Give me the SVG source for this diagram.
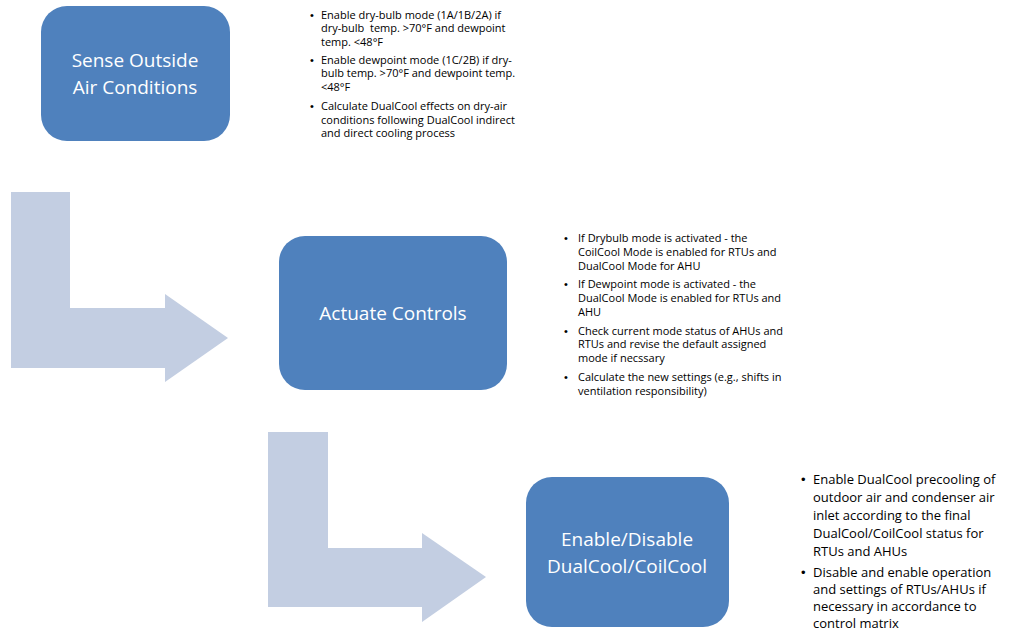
<svg xmlns="http://www.w3.org/2000/svg" width="1010" height="632" viewBox="0 0 1010 632">
<style>
.box{fill:#4F81BD}
.arrow{fill:#C3CEE2}
.lbl{font-family:"Open Sans","Liberation Sans",sans-serif;font-size:19px;fill:#FFFFFF;text-anchor:middle}
.s{font-family:"Open Sans","Liberation Sans",sans-serif;font-size:11px;fill:#000000}
.m{font-family:"Open Sans","Liberation Sans",sans-serif;font-size:13px;fill:#000000}
.b{font-family:"Liberation Sans",Arial,sans-serif}
</style>
<rect width="1010" height="632" fill="#FFFFFF"/>
<g id="connectors">
<path class="arrow" d="M11,192 L70,192 L70,308 L165,308 L165,294 L228,338 L165,382 L165,368 L11,368 Z"/>
<path class="arrow" d="M268,432 L328,432 L328,548 L422,548 L422,533 L486,577 L422,622 L422,607 L268,607 Z"/>
</g>
<g id="node-sense">
<rect class="box" x="41" y="6" width="189" height="135" rx="26"/>
<text class="lbl" x="135" y="67">Sense Outside</text>
<text class="lbl" x="135" y="94">Air Conditions</text>
</g>
<g id="node-actuate">
<rect class="box" x="279" y="236" width="228" height="154" rx="26"/>
<text class="lbl" x="393" y="320">Actuate Controls</text>
</g>
<g id="node-enable">
<rect class="box" x="526" y="477" width="203" height="150" rx="26"/>
<text class="lbl" x="627" y="546">Enable/Disable</text>
<text class="lbl" x="627" y="573">DualCool/CoilCool</text>
</g>
<g id="notes-sense" class="s">
<text class="b" x="310" y="19">•</text>
<text x="321" y="19">Enable dry-bulb mode (1A/1B/2A) if</text>
<text x="321" y="32" xml:space="preserve">dry-bulb  temp. &gt;70°F and dewpoint</text>
<text x="321" y="46">temp. &lt;48°F</text>
<text class="b" x="310" y="64">•</text>
<text x="321" y="64">Enable dewpoint mode (1C/2B) if dry-</text>
<text x="321" y="77">bulb temp. &gt;70°F and dewpoint temp.</text>
<text x="321" y="91">&lt;48°F</text>
<text class="b" x="310" y="110">•</text>
<text x="321" y="110">Calculate DualCool effects on dry-air</text>
<text x="321" y="124">conditions following DualCool indirect</text>
<text x="321" y="137">and direct cooling process</text>
</g>
<g id="notes-actuate" class="s">
<text class="b" x="564" y="242">•</text>
<text x="578" y="242">If Drybulb mode is activated - the</text>
<text x="578" y="256">CoilCool Mode is enabled for RTUs and</text>
<text x="578" y="270">DualCool Mode for AHU</text>
<text class="b" x="564" y="288">•</text>
<text x="578" y="288">If Dewpoint mode is activated - the</text>
<text x="578" y="302">DualCool Mode is enabled for RTUs and</text>
<text x="578" y="316">AHU</text>
<text class="b" x="564" y="335">•</text>
<text x="578" y="335">Check current mode status of AHUs and</text>
<text x="578" y="348">RTUs and revise the default assigned</text>
<text x="578" y="362">mode if necssary</text>
<text class="b" x="564" y="381">•</text>
<text x="578" y="381">Calculate the new settings (e.g., shifts in</text>
<text x="578" y="395">ventilation responsibility)</text>
</g>
<g id="notes-enable" class="m">
<text class="b" x="801" y="484">•</text>
<text x="813" y="484">Enable DualCool precooling of</text>
<text x="813" y="502">outdoor air and condenser air</text>
<text x="813" y="520">inlet according to the final</text>
<text x="813" y="538">DualCool/CoilCool status for</text>
<text x="813" y="556">RTUs and AHUs</text>
<text class="b" x="801" y="577">•</text>
<text x="813" y="577">Disable and enable operation</text>
<text x="813" y="594">and settings of RTUs/AHUs if</text>
<text x="813" y="611">necessary in accordance to</text>
<text x="813" y="628">control matrix</text>
</g>
</svg>
